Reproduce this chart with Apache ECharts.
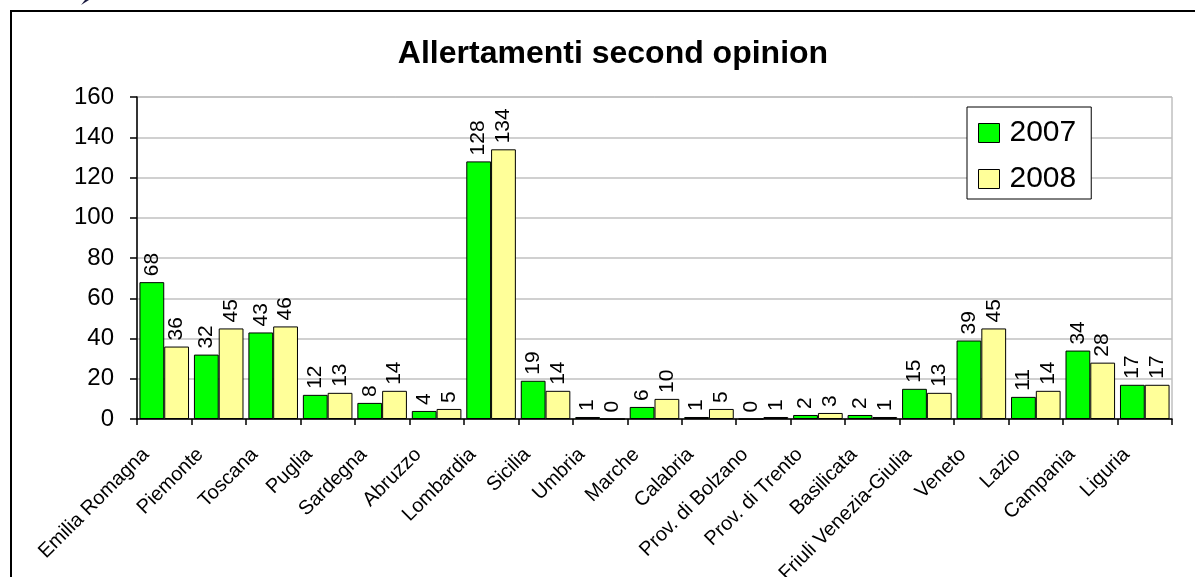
<!DOCTYPE html>
<html>
<head>
<meta charset="utf-8">
<script src="https://cdn.jsdelivr.net/npm/echarts@6/dist/echarts.min.js"></script>
<style>
  html, body { margin: 0; padding: 0; background: #ffffff; }
  #chart { width: 1195px; height: 577px; }
</style>
</head>
<body>
<div id="chart"></div>
<script>
// Regions (Italian regions / autonomous provinces)
const regioni = [
  'Emilia Romagna', 'Piemonte', 'Toscana', 'Puglia', 'Sardegna', 'Abruzzo',
  'Lombardia', 'Sicilia', 'Umbria', 'Marche', 'Calabria', 'Prov. di Bolzano',
  'Prov. di Trento', 'Basilicata', 'Friuli Venezia-Giulia', 'Veneto', 'Lazio',
  'Campania', 'Liguria'
];
const valori2007 = [68, 32, 43, 12, 8, 4, 128, 19, 1, 6, 1, 0, 2, 2, 15, 39, 11, 34, 17];
const valori2008 = [36, 45, 46, 13, 14, 5, 134, 14, 0, 10, 5, 1, 3, 1, 13, 45, 14, 28, 17];
const anni = ['2007', '2008'];
const titolo = 'Allertamenti second opinion';

const FONT = '"Liberation Sans", Arial, sans-serif';

function serie(nome, dati, colore) {
  return {
    name: nome,
    type: 'bar',
    data: dati,
    barGap: '0%',
    barCategoryGap: '9%',
    itemStyle: { color: colore, borderColor: '#000000', borderWidth: 1 },
    label: {
      show: true,
      position: 'top',
      rotate: 90,
      align: 'left',
      verticalAlign: 'middle',
      distance: 6,
      color: '#000000',
      fontFamily: FONT,
      fontSize: 21
    },
    emphasis: { disabled: true }
  };
}

const chart = echarts.init(document.getElementById('chart'), null, { renderer: 'canvas' });
chart.setOption({
  animation: false,
  backgroundColor: '#ffffff',
  title: {
    text: titolo,
    left: 613,
    top: 38,
    padding: 0,
    textAlign: 'center',
    textStyle: { fontFamily: FONT, fontSize: 32, fontWeight: 'bold', color: '#000000' }
  },
  legend: {
    orient: 'vertical',
    left: 967,
    top: 107,
    padding: [11, 15, 5, 11],
    itemGap: 16,
    itemWidth: 21,
    itemHeight: 19,
    backgroundColor: '#ffffff',
    borderColor: '#000000',
    borderWidth: 1,
    icon: 'rect',
    textStyle: { fontFamily: FONT, fontSize: 30, lineHeight: 28, color: '#000000', padding: [0, 0, 0, 5] },
    data: anni.map(a => ({ name: a, itemStyle: { borderColor: '#000000', borderWidth: 1 } }))
  },
  grid: {
    left: 137,
    right: 23,
    top: 97,
    bottom: 158,
    containLabel: false,
    outerBoundsMode: 'none',
    show: true,
    borderColor: '#a0a0a0',
    borderWidth: 1
  },
  xAxis: {
    type: 'category',
    data: regioni,
    axisLine: { lineStyle: { color: '#000000', width: 1.5 } },
    axisTick: { show: true, length: 6, lineStyle: { color: '#000000', width: 1.5 } },
    axisLabel: {
      rotate: 45,
      margin: 14,
      interval: 0,
      padding: [0, 26, 0, 0],
      fontFamily: FONT,
      fontSize: 20,
      color: '#000000'
    },
    splitLine: { show: false }
  },
  yAxis: {
    type: 'value',
    min: 0,
    max: 160,
    interval: 20,
    axisLine: { show: true, lineStyle: { color: '#000000', width: 1.5 } },
    axisTick: { show: true, length: 7, lineStyle: { color: '#000000', width: 1.5 } },
    axisLabel: { margin: 23, fontFamily: FONT, fontSize: 24, color: '#000000' },
    splitLine: { show: true, lineStyle: { color: '#c0c0c0', width: 1.5 } }
  },
  graphic: [
    {
      type: 'rect',
      shape: { x: 11, y: 11, width: 1250, height: 650 },
      style: { fill: null, stroke: '#000000', lineWidth: 2 },
      silent: true
    },
    {
      type: 'polygon',
      shape: { points: [[81, 5], [85, 0], [89, 0]] },
      style: { fill: '#1a1a40' },
      silent: true
    }
  ],
  series: [
    serie(anni[0], valori2007, '#00ff00'),
    serie(anni[1], valori2008, '#ffff99')
  ]
});
</script>
</body>
</html>
